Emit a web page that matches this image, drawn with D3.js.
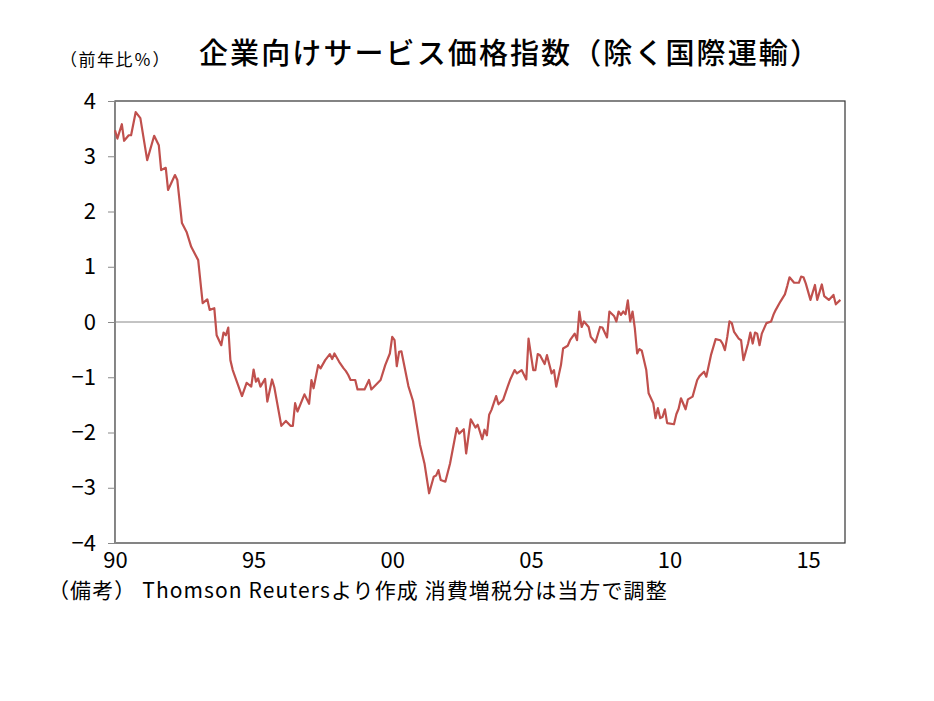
<!DOCTYPE html>
<html>
<head>
<meta charset="utf-8">
<script src="https://cdn.jsdelivr.net/npm/d3@7/dist/d3.min.js"></script>
<style>
  html, body { margin: 0; padding: 0; background: #fff; }
  svg { display: block; }
  text { font-family: "Noto Sans CJK JP", "Noto Sans", sans-serif; fill: #000; }
</style>
</head>
<body>
<svg id="chart" width="934" height="701"></svg>
<script>
// ---- data (year-on-year %) ----
const months = [
"1990-01","1990-02","1990-04","1990-05","1990-07","1990-08","1990-10","1990-12",
"1991-03","1991-06","1991-08","1991-09","1991-11","1991-12",
"1992-03","1992-04","1992-06","1992-08","1992-10",
"1993-01","1993-03","1993-05","1993-06","1993-08","1993-09","1993-11","1993-12",
"1994-01","1994-02","1994-03","1994-04","1994-08","1994-10","1994-12",
"1995-01","1995-02","1995-03","1995-04","1995-06","1995-07","1995-09","1995-10",
"1996-01","1996-03","1996-05","1996-06","1996-07","1996-08","1996-11",
"1997-01","1997-02","1997-03","1997-05","1997-06","1997-08","1997-10","1997-11","1997-12",
"1998-02","1998-04","1998-05","1998-06","1998-07","1998-09","1998-10",
"1999-01","1999-03","1999-04","1999-08","1999-10","1999-12",
"2000-01","2000-02","2000-03","2000-04","2000-05","2000-08","2000-10",
"2001-01","2001-03","2001-05","2001-07","2001-08","2001-09","2001-10","2001-12",
"2002-02","2002-05","2002-06","2002-08","2002-09","2002-11",
"2003-01","2003-02","2003-04","2003-05","2003-06","2003-07","2003-08","2003-10","2003-11",
"2004-01","2004-03","2004-04","2004-06","2004-07","2004-09","2004-11","2004-12",
"2005-02","2005-03","2005-04","2005-05","2005-07","2005-08","2005-10","2005-11","2005-12",
"2006-02","2006-03","2006-05","2006-06","2006-08","2006-09","2006-10","2006-11","2006-12",
"2007-02","2007-03","2007-05","2007-07","2007-08","2007-10","2007-11",
"2008-01","2008-02","2008-03","2008-04","2008-05","2008-06","2008-07","2008-08","2008-09","2008-10","2008-11","2008-12",
"2009-01","2009-03","2009-04","2009-06","2009-07","2009-08","2009-09","2009-10","2009-11","2009-12",
"2010-03","2010-04","2010-05","2010-06","2010-08","2010-09","2010-11",
"2011-01","2011-02","2011-04","2011-05","2011-07","2011-09","2011-11","2011-12",
"2012-01","2012-02","2012-03","2012-04","2012-05","2012-07","2012-08","2012-09","2012-11","2012-12",
"2013-01","2013-02","2013-03","2013-04","2013-05","2013-07","2013-09","2013-10","2013-11",
"2014-01","2014-03","2014-04","2014-05","2014-07","2014-09","2014-10","2014-11","2014-12",
"2015-02","2015-04","2015-05","2015-07","2015-08","2015-10","2015-12",
"2016-01","2016-03"
];
const values = [
3.47,3.32,3.58,3.28,3.38,3.38,3.80,3.69,
2.93,3.37,3.20,2.75,2.79,2.39,
2.66,2.57,1.79,1.63,1.36,
1.12,0.34,0.41,0.22,0.25,-0.24,-0.42,-0.19,
-0.24,-0.10,-0.69,-0.87,-1.34,-1.10,-1.17,
-0.86,-1.08,-1.02,-1.17,-1.03,-1.44,-1.04,-1.18,
-1.88,-1.79,-1.88,-1.88,-1.47,-1.62,-1.31,
-1.48,-1.05,-1.20,-0.78,-0.84,-0.69,-0.58,-0.67,-0.57,
-0.72,-0.84,-0.89,-0.96,-1.05,-1.05,-1.22,
-1.22,-1.05,-1.22,-1.05,-0.78,-0.57,
-0.27,-0.33,-0.80,-0.54,-0.53,-1.16,-1.43,
-2.22,-2.56,-3.10,-2.80,-2.78,-2.68,-2.86,-2.89,
-2.56,-1.92,-2.02,-1.94,-2.38,-1.76,
-1.91,-1.86,-2.12,-1.95,-2.05,-1.68,-1.59,-1.34,-1.49,
-1.41,-1.17,-1.05,-0.87,-0.93,-0.87,-1.04,-0.30,
-0.87,-0.87,-0.58,-0.60,-0.76,-0.60,-0.93,-0.87,-1.17,
-0.78,-0.48,-0.43,-0.33,-0.21,-0.33,0.19,-0.09,0.01,
-0.09,-0.27,-0.37,-0.09,-0.10,-0.28,0.19,
0.11,0.01,0.19,0.13,0.19,0.14,0.39,0.01,0.19,-0.11,-0.57,-0.49,
-0.52,-0.87,-1.29,-1.47,-1.74,-1.56,-1.74,-1.72,-1.58,-1.83,
-1.85,-1.67,-1.57,-1.38,-1.58,-1.40,-1.35,
-1.05,-0.98,-0.90,-0.99,-0.60,-0.31,-0.33,-0.39,
-0.51,-0.27,0.01,-0.02,-0.18,-0.30,-0.33,-0.69,-0.39,-0.19,
-0.39,-0.19,-0.21,-0.42,-0.21,-0.02,0.01,0.13,0.22,
0.37,0.50,0.65,0.81,0.71,0.71,0.82,0.81,0.70,
0.40,0.67,0.40,0.68,0.47,0.40,0.49,
0.32,0.40
];
const yTicks = [-4,-3,-2,-1,0,1,2,3,4];
const xTickYears = [1990,1995,2000,2005,2010,2015];
const xDomain = ["1990-01","2016-05"];
const titleText = "企業向けサービス価格指数（除く国際運輸）";
const unitText = "（前年比％）";
const noteText = "（備考） Thomson Reutersより作成 消費増税分は当方で調整";

// ---- layout ----
const svg = d3.select("#chart");
const L = 115, R = 845, T = 101, B = 543;
const parse = d3.timeParse("%Y-%m");
const data = months.map((m, i) => ({ date: parse(m), value: values[i] }));

const x = d3.scaleTime().domain(xDomain.map(parse)).range([L, R]);
const y = d3.scaleLinear().domain([-4, 4]).range([B, T]);

// plot frame
svg.append("rect")
  .attr("x", L).attr("y", T).attr("width", R - L).attr("height", B - T)
  .attr("fill", "none").attr("stroke", "#333").attr("stroke-width", 1.2);

// zero line
svg.append("line")
  .attr("x1", L).attr("x2", R).attr("y1", y(0)).attr("y2", y(0))
  .attr("stroke", "#888").attr("stroke-width", 1);

// y axis
const yAxis = d3.axisLeft(y).tickValues(yTicks).tickSize(7).tickPadding(12)
  .tickFormat(d3.format("d"));
const gy = svg.append("g").attr("transform", `translate(${L},0)`).call(yAxis);
gy.select(".domain").attr("stroke", "#888");
gy.selectAll(".tick line").attr("stroke", "#888");
gy.selectAll(".tick text")
  .style("font-family", "'Noto Sans CJK JP', sans-serif")
  .style("font-size", "22px").attr("fill", "#000");

// x axis (labels only)
const xAxis = d3.axisBottom(x)
  .tickValues(xTickYears.map(yr => new Date(yr, 0, 1)))
  .tickSize(0).tickPadding(9)
  .tickFormat(d3.timeFormat("%y"));
const gx = svg.append("g").attr("transform", `translate(0,${B})`).call(xAxis);
gx.select(".domain").remove();
gx.selectAll(".tick text")
  .style("font-family", "'Noto Sans CJK JP', sans-serif")
  .style("font-size", "22px").attr("fill", "#000");

// line
const line = d3.line().x(d => x(d.date)).y(d => y(d.value));
svg.append("path").datum(data)
  .attr("d", line)
  .attr("fill", "none").attr("stroke", "#c0504d")
  .attr("stroke-width", 2.2).attr("stroke-linejoin", "round");

// texts
svg.append("text").text(titleText)
  .attr("x", 199).attr("y", 64)
  .style("font-size", "29px").style("font-weight", 500)
  .style("letter-spacing", "2.1px");

svg.append("text").text(unitText)
  .attr("x", 60).attr("y", 66)
  .style("font-size", "17px")
  .style("letter-spacing", "1.5px");

svg.append("text").text(noteText)
  .attr("x", 48).attr("y", 598)
  .style("font-size", "21px")
  .style("letter-spacing", "1.1px");
</script>
</body>
</html>
